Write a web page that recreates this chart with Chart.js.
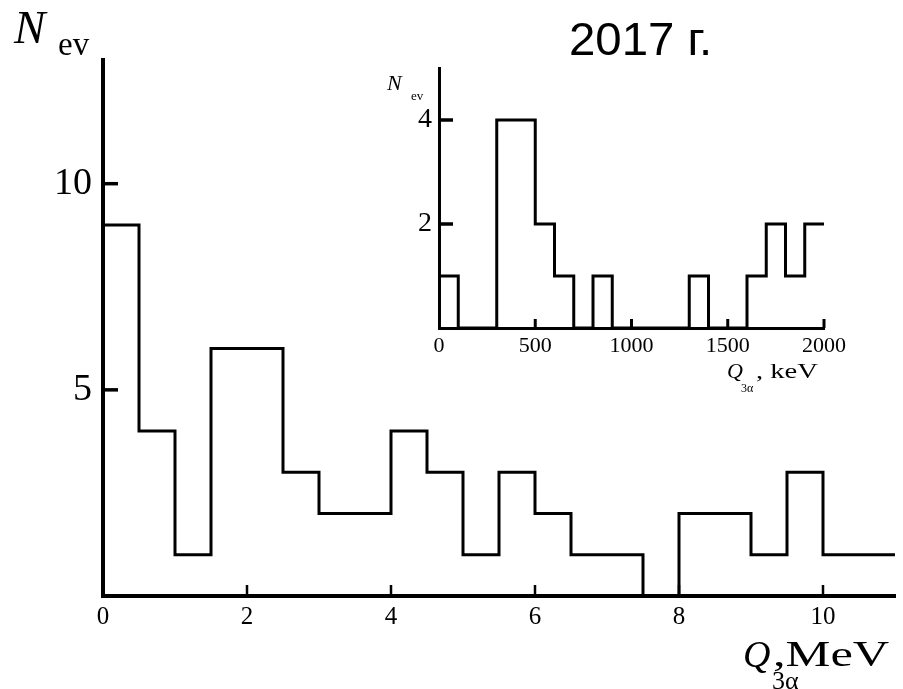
<!DOCTYPE html>
<html>
<head>
<meta charset="utf-8">
<script src="https://cdn.jsdelivr.net/npm/chart.js@4/dist/chart.umd.min.js"></script>
<style>
  html, body { margin: 0; padding: 0; background: #fff; }
  #wrap { position: relative; width: 903px; height: 689px; overflow: hidden; }
  #main { position: absolute; left: 0; top: 0; }
  #inset { position: absolute; left: 380px; top: 60px; }
</style>
</head>
<body>
<div id="wrap">
  <canvas id="main" width="903" height="689"></canvas>
  <canvas id="inset" width="470" height="340"></canvas>
</div>
<script>
// main histogram, Q3a in MeV, 0.5 MeV bins
const mainEdges = [0, 0.5, 1, 1.5, 2, 2.5, 3, 3.5, 4, 4.5, 5, 5.5, 6, 6.5, 7, 7.5, 8, 8.5, 9, 9.5, 10, 10.5, 11];
const mainCounts = [9, 4, 1, 6, 6, 3, 2, 2, 4, 3, 1, 3, 2, 1, 1, 0, 2, 2, 1, 3, 1, 1];
const mainXTicks = [0, 2, 4, 6, 8, 10];
const mainYTicks = [5, 10];

// inset histogram, Q3a in keV, 100 keV bins
const insetEdges = [0, 100, 200, 300, 400, 500, 600, 700, 800, 900, 1000, 1100, 1200, 1300, 1400, 1500, 1600, 1700, 1800, 1900, 2000];
const insetCounts = [1, 0, 0, 4, 4, 2, 1, 0, 1, 0, 0, 0, 0, 1, 0, 0, 1, 2, 1, 2];
const insetXTicks = [0, 500, 1000, 1500, 2000];
const insetYTicks = [2, 4];

const SERIF = '"Liberation Serif", "Times New Roman", serif';

// each bin value is held from its left edge to the next edge
function stepPoints(edges, counts) {
  return edges.map((e, i) => ({ x: e, y: counts[Math.min(i, counts.length - 1)] }));
}

function text(ctx, str, x, y, font, sx) {
  ctx.save();
  ctx.font = font;
  ctx.fillStyle = '#000';
  ctx.textBaseline = 'alphabetic';
  ctx.textAlign = 'left';
  ctx.translate(x, y);
  ctx.scale(sx || 1, 1);
  ctx.fillText(str, 0, 0);
  ctx.restore();
}

// ticks drawn pointing into the plot area
const inwardTicks = {
  id: 'inwardTicks',
  afterDatasetsDraw(chart, args, opts) {
    const ctx = chart.ctx;
    ctx.save();
    ctx.strokeStyle = '#000';
    Object.keys(opts.axes || {}).forEach((id) => {
      const scale = chart.scales[id];
      const o = opts.axes[id];
      ctx.lineWidth = o.width;
      scale.ticks.forEach((t) => {
        if (t.value === 0) return;
        const p = scale.getPixelForValue(t.value);
        ctx.beginPath();
        if (scale.isHorizontal()) {
          ctx.moveTo(p, scale.top);
          ctx.lineTo(p, scale.top - o.len);
        } else {
          ctx.moveTo(scale.right, p);
          ctx.lineTo(scale.right + o.len, p);
        }
        ctx.stroke();
      });
    });
    ctx.restore();
  }
};

const mainTitles = {
  id: 'mainTitles',
  afterDraw(chart) {
    const ctx = chart.ctx;
    text(ctx, 'N', 14, 43, 'italic 47px ' + SERIF);
    text(ctx, 'ev', 58, 55, '33px ' + SERIF);
    text(ctx, 'Q', 743, 667, 'italic 38px ' + SERIF);
    text(ctx, '3α', 772, 689, '26px ' + SERIF);
    text(ctx, ',MeV', 773, 666, '36px ' + SERIF, 1.4);
    text(ctx, '2017 г.', 569, 55, '46px "Liberation Sans", Arial, sans-serif', 1.03);
  }
};

const insetTitles = {
  id: 'insetTitles',
  afterDraw(chart) {
    const ctx = chart.ctx;
    text(ctx, 'N', 7, 30, 'italic 22px ' + SERIF);
    text(ctx, 'ev', 31, 40, '13px ' + SERIF);
    text(ctx, 'Q', 347, 318, 'italic 22px ' + SERIF);
    text(ctx, '3α', 361, 332, '12px ' + SERIF);
    text(ctx, ', keV', 376, 318, '22px ' + SERIF, 1.3);
  }
};

function noEdgePadding(s) {
  s.paddingTop = 0;
  s.paddingBottom = 0;
  s.paddingLeft = 0;
  s.paddingRight = 0;
}

function histChart(canvas, cfg) {
  return new Chart(canvas, {
    type: 'line',
    data: {
      datasets: [{
        data: stepPoints(cfg.edges, cfg.counts),
        stepped: 'before',
        borderColor: '#000',
        borderWidth: 3,
        pointRadius: 0,
        fill: false,
        clip: 4,
      }],
    },
    options: {
      responsive: false,
      animation: false,
      devicePixelRatio: 1,
      layout: { padding: cfg.padding },
      plugins: {
        legend: { display: false },
        tooltip: { enabled: false },
        inwardTicks: { axes: cfg.tickMarks },
      },
      scales: {
        x: {
          type: 'linear',
          min: cfg.xMin,
          max: cfg.xMax,
          afterBuildTicks: (s) => { s.ticks = cfg.xTicks.map((v) => ({ value: v })); },
          afterFit: (s) => { s.height = cfg.xHeight; noEdgePadding(s); },
          grid: { display: false, drawTicks: false },
          border: { display: true, color: '#000', width: cfg.axisWidth },
          ticks: {
            color: '#000', padding: cfg.xPad, maxRotation: 0, autoSkip: false,
            font: { family: SERIF, size: cfg.xFont },
            callback: (v) => String(v),
          },
        },
        y: {
          type: 'linear',
          min: 0,
          max: cfg.yMax,
          afterBuildTicks: (s) => { s.ticks = cfg.yTicks.map((v) => ({ value: v })); },
          afterFit: (s) => { s.width = cfg.yWidth; noEdgePadding(s); },
          grid: { display: false, drawTicks: false },
          border: { display: true, color: '#000', width: cfg.axisWidth },
          ticks: {
            color: '#000', padding: cfg.yPad,
            font: { family: SERIF, size: cfg.yFont },
            callback: (v) => String(v),
          },
        },
      },
    },
    plugins: [inwardTicks, cfg.titles],
  });
}

histChart(document.getElementById('main'), {
  edges: mainEdges, counts: mainCounts, xTicks: mainXTicks, yTicks: mainYTicks,
  xMin: 0, xMax: 11, yMax: 13,
  padding: { top: 60, right: 8, left: 0, bottom: 0 },
  xHeight: 93, yWidth: 103, axisWidth: 4,
  xPad: 6, yPad: 11, xFont: 25, yFont: 38,
  tickMarks: { x: { len: 11, width: 2.5 }, y: { len: 15, width: 3.5 } },
  titles: mainTitles,
});

histChart(document.getElementById('inset'), {
  edges: insetEdges, counts: insetCounts, xTicks: insetXTicks, yTicks: insetYTicks,
  xMin: 0, xMax: 2000, yMax: 5,
  padding: { top: 8, right: 26, left: 0, bottom: 0 },
  xHeight: 72, yWidth: 59, axisWidth: 3,
  xPad: 5, yPad: 7, xFont: 22, yFont: 28,
  tickMarks: { x: { len: 9, width: 3 }, y: { len: 14, width: 3.5 } },
  titles: insetTitles,
});
</script>
</body>
</html>
